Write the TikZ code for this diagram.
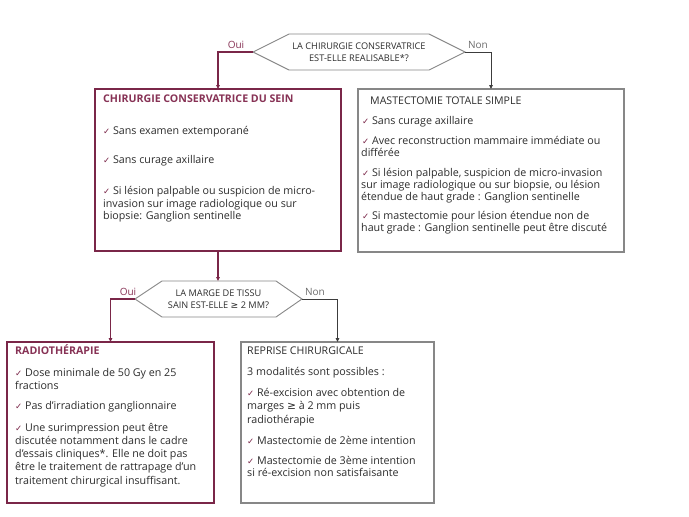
\documentclass[tikz,border=0pt]{standalone}
\usepackage{fontspec}
\setmainfont{Open Sans}
\newfontfamily\symf{DejaVu Sans}
\usetikzlibrary{arrows.meta,calc}
\definecolor{mar}{RGB}{122,38,72}
\definecolor{marT}{RGB}{135,50,85}
\definecolor{txtc}{RGB}{45,45,45}
\definecolor{boxg}{RGB}{135,135,135}
\definecolor{lineg}{RGB}{60,60,60}
\newcommand\ck{{\symf\color{mar}\fontsize{8.5}{10}\selectfont ✓}}
\newcommand\gesym{{\symf ≥}}
\tikzset{
  mbox/.style={draw=mar,line width=1.8pt,inner sep=0pt,outer sep=0pt,anchor=north west},
  gbox/.style={draw=boxg,line width=1.3pt,inner sep=0pt,outer sep=0pt,anchor=north west},
  hexq/.style={inner sep=0pt,outer sep=0pt,align=center,text=txtc,font=\fontsize{9.2}{11.5}\selectfont},
  hexline/.style={draw=boxg,line width=0.9pt},
  marrow/.style={draw=mar,line width=1.4pt,-{Triangle[length=4pt,width=3.6pt]}},
  garrow/.style={draw=lineg,line width=1pt,-{Triangle[length=4pt,width=3.6pt]}},
  txt/.style={anchor=mid west,inner sep=0pt,text=txtc,font=\fontsize{10.7}{12}\selectfont},
  mhead/.style={txt,text=marT,font=\fontsize{10.6}{12}\selectfont\bfseries},
  ghead/.style={txt,font=\fontsize{10.6}{12}\selectfont},
  oui/.style={inner sep=0pt,text=marT,font=\fontsize{10}{11}\selectfont},
  non/.style={inner sep=0pt,text=lineg!75,font=\fontsize{10}{11}\selectfont},
}
\begin{document}
\begin{tikzpicture}[x=1pt,y=-1pt]
\useasboundingbox[fill=white] (0,0) rectangle (689,517);

% question 1
\node[hexq,minimum width=212pt,minimum height=36pt] (q1) at (359,52) {LA CHIRURGIE CONSERVATRICE\\EST-ELLE REALISABLE*?};
\draw[hexline] (q1.west) -- ([xshift=36pt]q1.north west) -- ([xshift=-36pt]q1.north east) -- (q1.east) -- ([xshift=-36pt]q1.south east) -- ([xshift=36pt]q1.south west) -- cycle;

% boxes
\node[mbox,minimum width=246pt,minimum height=162pt] (cons) at (95,89) {};
\node[gbox,minimum width=266pt,minimum height=163pt] (mast) at (358,89) {};

% question 2
\node[hexq,minimum width=167pt,minimum height=36pt] (q2) at (218.5,299) {LA MARGE DE TISSU\\SAIN EST-ELLE \gesym{} 2 MM?};
\draw[hexline] (q2.west) -- ([xshift=27pt]q2.north west) -- ([xshift=-26pt]q2.north east) -- (q2.east) -- ([xshift=-26pt]q2.south east) -- ([xshift=27pt]q2.south west) -- cycle;

\node[mbox,minimum width=207pt,minimum height=161pt] (radio) at (7,342) {};
\node[gbox,minimum width=193pt,minimum height=161pt] (rep) at (241,342) {};

% connectors
\draw[marrow] (q1.west) -| (cons.north);
\draw[garrow] (q1.east) -| (mast.north);
\draw[marrow] (cons.south) -- (cons.south |- q2.north);
\draw[marrow] (q2.west) -| (radio.north);
\draw[garrow] (q2.east) -| (rep.north);

% labels
\node[oui] (oui1) at (236,45) {Oui};
\node[non] (non1) at (478,45) {Non};
\node[oui] (oui2) at (128,292) {Oui};
\node[non] (non2) at (315,292) {Non};

% left box text
\node[mhead] (c0) at (103,100) {CHIRURGIE CONSERVATRICE DU SEIN};
\node[txt] (c1) at (103,132) {\ck{} Sans examen extemporané};
\node[txt] (c2) at (103,161) {\ck{} Sans curage axillaire};
\node[txt] (c3) at (103,192) {\ck{} Si lésion palpable ou suspicion de micro-};
\node[txt] (c4) at (103,205) {invasion sur image radiologique ou sur};
\node[txt] (c5) at (103,217) {biopsie: Ganglion sentinelle};

% right box text
\node[ghead] (m0) at (370,102) {MASTECTOMIE TOTALE SIMPLE};
\node[txt] (m1) at (362,122) {\ck{} Sans curage axillaire};
\node[txt] (m2) at (362,142) {\ck{} Avec reconstruction mammaire immédiate ou};
\node[txt] (m3) at (361,154) {différée};
\node[txt] (m4) at (362,174) {\ck{} Si lésion palpable, suspicion de micro-invasion};
\node[txt] (m5) at (361,186) {sur image radiologique ou sur biopsie, ou lésion};
\node[txt] (m6) at (361,198) {étendue de haut grade : Ganglion sentinelle};
\node[txt] (m7) at (362,217) {\ck{} Si mastectomie pour lésion étendue non de};
\node[txt] (m8) at (361,229) {haut grade : Ganglion sentinelle peut être discuté};

% radiotherapy text
\node[mhead] (r0) at (15,352) {RADIOTHÉRAPIE};
\node[txt] (r1) at (15,374) {\ck{} Dose minimale de 50 Gy en 25};
\node[txt] (r2) at (15,387) {fractions};
\node[txt] (r3) at (15,407) {\ck{} Pas d’irradiation ganglionnaire};
\node[txt] (r4) at (15,429) {\ck{} Une surimpression peut être};
\node[txt] (r5) at (15,442) {discutée notamment dans le cadre};
\node[txt] (r6) at (15,455) {d’essais cliniques*. Elle ne doit pas};
\node[txt] (r7) at (15,468) {être le traitement de rattrapage d’un};
\node[txt] (r8) at (15,482) {traitement chirurgical insuffisant.};

% reprise text
\node[ghead] (p0) at (247,352) {REPRISE CHIRURGICALE};
\node[txt] (p1) at (247,373) {3 modalités sont possibles :};
\node[txt] (p2) at (247,394) {\ck{} Ré-excision avec obtention de};
\node[txt] (p3) at (247,407) {marges \gesym{} à 2 mm puis};
\node[txt] (p4) at (247,421) {radiothérapie};
\node[txt] (p5) at (247,442) {\ck{} Mastectomie de 2ème intention};
\node[txt] (p6) at (247,462) {\ck{} Mastectomie de 3ème intention};
\node[txt] (p7) at (247,474) {si ré-excision non satisfaisante};
\end{tikzpicture}
\end{document}
